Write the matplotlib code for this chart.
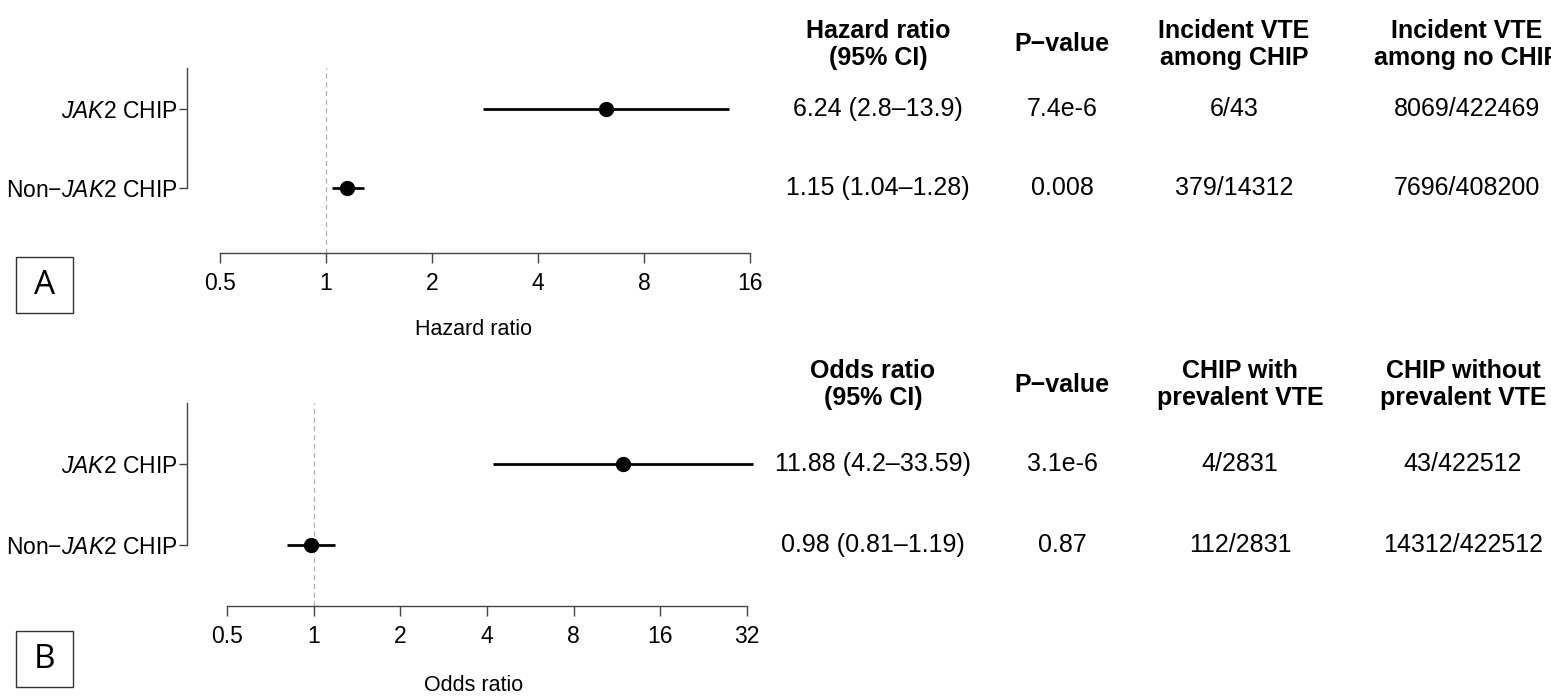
import matplotlib
matplotlib.use("Agg")
import matplotlib.pyplot as plt
from matplotlib.transforms import blended_transform_factory
from matplotlib.patches import Rectangle

plt.rcParams['font.family'] = ['Liberation Sans', 'DejaVu Sans']
plt.rcParams['mathtext.fontset'] = 'custom'
plt.rcParams['mathtext.rm'] = 'Liberation Sans'
plt.rcParams['mathtext.it'] = 'Liberation Sans:italic'

# ---------------- data ----------------
groups = ["$\\mathit{JAK2}$ CHIP", "Non\u2212$\\mathit{JAK2}$ CHIP"]

hr = [6.24, 1.15]
hr_lo = [2.8, 1.04]
hr_hi = [13.9, 1.28]
hr_p = ["7.4e-6", "0.008"]
inc_chip = ["6/43", "379/14312"]
inc_nochip = ["8069/422469", "7696/408200"]
hr_ticks = [0.5, 1, 2, 4, 8, 16]
hr_headers = ["Hazard ratio\n(95% CI)", "P\u2212value", "Incident VTE\namong CHIP", "Incident VTE\namong no CHIP"]

odds = [11.88, 0.98]
or_lo = [4.2, 0.81]
or_hi = [33.59, 1.19]
or_p = ["3.1e-6", "0.87"]
prev_with = ["4/2831", "112/2831"]
prev_without = ["43/422512", "14312/422512"]
or_ticks = [0.5, 1, 2, 4, 8, 16, 32]
or_headers = ["Odds ratio\n(95% CI)", "P\u2212value", "CHIP with\nprevalent VTE", "CHIP without\nprevalent VTE"]

W, H = 1551, 698
fig = plt.figure(figsize=(W / 100, H / 100), dpi=100)


def fx(px):
    return px / W


def fy(py):
    return 1 - py / H


def panel(rect, xlim, ylim, est, lo, hi, ticks, xlabel, tick_max, labelpad):
    ax = fig.add_axes(rect)
    ax.set_xscale('log', base=2)
    ypos = [2, 1]
    ax.axvline(1, color='#b0b0b0', lw=0.9, ls=(0, (4, 3)), zorder=1)
    for y, e, l, h in zip(ypos, est, lo, hi):
        ax.plot([l, h], [y, y], color='black', lw=2.0, solid_capstyle='butt', zorder=2)
        ax.plot([e], [y], 'o', color='black', ms=10, zorder=3)
    ax.set_xlim(*xlim)
    ax.set_ylim(*ylim)
    ax.set_xticks(ticks)
    ax.set_xticklabels([f"{t:g}" for t in ticks])
    ax.minorticks_off()
    ax.set_yticks(ypos)
    ax.set_yticklabels(groups)
    for s in ['top', 'right']:
        ax.spines[s].set_visible(False)
    for s in ['left', 'bottom']:
        ax.spines[s].set_color('#444444')
        ax.spines[s].set_linewidth(1.0)
    ax.spines['left'].set_bounds(1, ylim[1])
    ax.spines['bottom'].set_bounds(ticks[0], tick_max)
    ax.tick_params(axis='x', length=7, width=1.0, color='#444444', pad=7, labelsize=16.5)
    ax.tick_params(axis='y', length=6, width=1.0, color='#444444', pad=1, labelsize=16.5)
    ax.set_xlabel(xlabel, fontsize=15.5, labelpad=labelpad)
    ax.patch.set_visible(False)
    return ax


# top panel
ax1 = panel([fx(187), fy(253), fx(760 - 187), (253 - 68) / H],
            (2 ** -1.311, 2 ** 4.094), (0.177, 2.519),
            hr, hr_lo, hr_hi, hr_ticks, "Hazard ratio", 16, 17)
# bottom panel
ax2 = panel([fx(187), fy(606), fx(760 - 187), (606 - 403) / H],
            (2 ** -1.4615, 2 ** 5.150), (0.247, 2.753),
            odds, or_lo, or_hi, or_ticks, "Odds ratio", 32, 19)


def table(ax, headers, head_y, col_x, columns):
    tr = blended_transform_factory(fig.transFigure, ax.transData)
    for hx, htxt in zip(col_x, headers):
        lines = htxt.split("\n")
        if len(lines) == 1:
            fig.text(fx(hx), fy(head_y), lines[0], ha='center', va='center',
                     fontsize=18, fontweight='bold')
        else:
            for k, ln in enumerate(lines):
                fig.text(fx(hx), fy(head_y - 13.5 + 27 * k), ln, ha='center', va='center',
                         fontsize=18, fontweight='bold')
    for cx, col in zip(col_x, columns):
        for y, txt in zip([2, 1], col):
            fig.text(fx(cx), y, txt, transform=tr, ha='center', va='center', fontsize=18)


ci_top = [f"{e:g} ({l:g}\u2013{h:g})" for e, l, h in zip(hr, hr_lo, hr_hi)]
ci_bot = [f"{e:g} ({l:g}\u2013{h:g})" for e, l, h in zip(odds, or_lo, or_hi)]

table(ax1, hr_headers, 44, [878, 1062, 1234, 1467], [ci_top, hr_p, inc_chip, inc_nochip])
table(ax2, or_headers, 385, [873, 1062, 1240, 1463], [ci_bot, or_p, prev_with, prev_without])

# panel letters
for letter, top in [("A", 257), ("B", 631)]:
    fig.patches.append(Rectangle((fx(16), fy(top + 56)), fx(57), 56 / H,
                                 transform=fig.transFigure, fill=False,
                                 edgecolor='#333333', lw=1.0))
    fig.text(fx(16 + 28.5), fy(top + 28), letter, ha='center', va='center',
             fontsize=24, family=['Open Sans', 'DejaVu Sans'])

fig.savefig("out.png", dpi=100)
